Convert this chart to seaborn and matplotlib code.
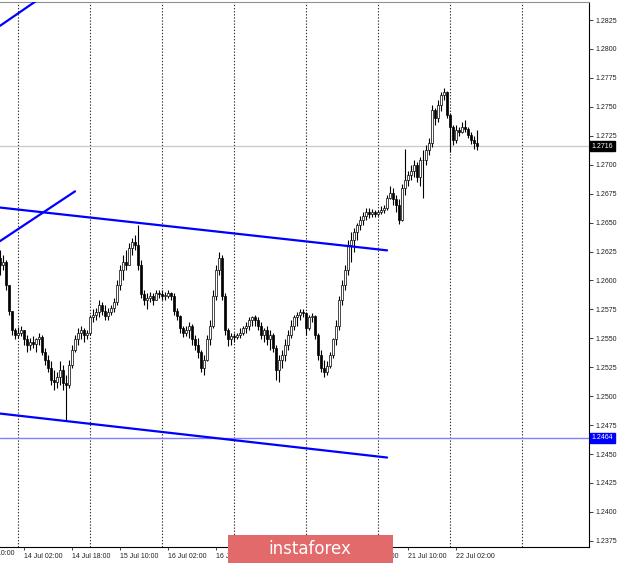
import matplotlib
matplotlib.use("Agg")
import matplotlib.pyplot as plt
import matplotlib.transforms as mtransforms
from matplotlib.patches import FancyBboxPatch
import numpy as np
import pandas as pd
import seaborn as sns

# hourly candles, GBP/USD H1, 13 Jul 18:00 .. 22 Jul 09:00
highs = [1.2626, 1.2622, 1.2618, 1.2596, 1.2574, 1.2559, 1.2560, 1.2561, 1.2557, 1.2553,
         1.2550, 1.2552, 1.2550, 1.2555, 1.2553, 1.2542, 1.2536, 1.2530, 1.2523, 1.2521,
         1.2530, 1.2527, 1.2518, 1.2531, 1.2544, 1.2553, 1.2559, 1.2561, 1.2559, 1.2557,
         1.2570, 1.2575, 1.2576, 1.2583, 1.2581, 1.2579, 1.2576, 1.2579, 1.2585, 1.2600,
         1.2613, 1.2622, 1.2626, 1.2632, 1.2637, 1.2639, 1.2648, 1.2618, 1.2592, 1.2589,
         1.2590, 1.2589, 1.2592, 1.2592, 1.2592, 1.2590, 1.2592, 1.2590, 1.2589, 1.2576,
         1.2570, 1.2561, 1.2561, 1.2564, 1.2562, 1.2553, 1.2550, 1.2540, 1.2536, 1.2553,
         1.2566, 1.2592, 1.2613, 1.2625, 1.2622, 1.2589, 1.2559, 1.2555, 1.2555, 1.2555,
         1.2559, 1.2561, 1.2564, 1.2568, 1.2569, 1.2570, 1.2568, 1.2564, 1.2559, 1.2561,
         1.2557, 1.2555, 1.2544, 1.2536, 1.2540, 1.2549, 1.2557, 1.2566, 1.2570, 1.2573,
         1.2575, 1.2575, 1.2573, 1.2570, 1.2572, 1.2570, 1.2555, 1.2540, 1.2531, 1.2530,
         1.2538, 1.2550, 1.2566, 1.2587, 1.2600, 1.2613, 1.2635, 1.2642, 1.2645, 1.2650,
         1.2656, 1.2659, 1.2663, 1.2663, 1.2662, 1.2661, 1.2661, 1.2664, 1.2665, 1.2674,
         1.2682, 1.2680, 1.2674, 1.2670, 1.2683, 1.2714, 1.2695, 1.2700, 1.2704, 1.2702,
         1.2707, 1.2713, 1.2717, 1.2723, 1.2752, 1.2749, 1.2756, 1.2763, 1.2766, 1.2764,
         1.2745, 1.2734, 1.2734, 1.2733, 1.2737, 1.2739, 1.2733, 1.2728, 1.2725, 1.2730]
lows = [1.2605, 1.2609, 1.2592, 1.2570, 1.2553, 1.2549, 1.2550, 1.2552, 1.2544, 1.2538,
        1.2540, 1.2542, 1.2538, 1.2544, 1.2536, 1.2527, 1.2521, 1.2510, 1.2505, 1.2507,
        1.2510, 1.2505, 1.2479, 1.2507, 1.2524, 1.2538, 1.2544, 1.2549, 1.2547, 1.2549,
        1.2553, 1.2564, 1.2566, 1.2568, 1.2570, 1.2566, 1.2566, 1.2570, 1.2573, 1.2579,
        1.2592, 1.2600, 1.2609, 1.2613, 1.2622, 1.2626, 1.2609, 1.2585, 1.2579, 1.2575,
        1.2581, 1.2579, 1.2583, 1.2585, 1.2583, 1.2583, 1.2585, 1.2583, 1.2570, 1.2566,
        1.2555, 1.2551, 1.2552, 1.2550, 1.2544, 1.2540, 1.2533, 1.2521, 1.2518, 1.2530,
        1.2544, 1.2559, 1.2583, 1.2605, 1.2583, 1.2553, 1.2543, 1.2544, 1.2547, 1.2549,
        1.2550, 1.2553, 1.2555, 1.2557, 1.2561, 1.2561, 1.2557, 1.2549, 1.2547, 1.2544,
        1.2540, 1.2538, 1.2514, 1.2512, 1.2524, 1.2530, 1.2540, 1.2550, 1.2557, 1.2561,
        1.2566, 1.2568, 1.2553, 1.2557, 1.2564, 1.2549, 1.2531, 1.2521, 1.2517, 1.2518,
        1.2524, 1.2533, 1.2544, 1.2557, 1.2579, 1.2592, 1.2605, 1.2616, 1.2625, 1.2635,
        1.2644, 1.2648, 1.2652, 1.2654, 1.2655, 1.2655, 1.2656, 1.2657, 1.2658, 1.2661,
        1.2670, 1.2665, 1.2659, 1.2649, 1.2651, 1.2674, 1.2682, 1.2687, 1.2689, 1.2685,
        1.2682, 1.2671, 1.2700, 1.2708, 1.2715, 1.2734, 1.2737, 1.2746, 1.2756, 1.2740,
        1.2711, 1.2717, 1.2719, 1.2725, 1.2727, 1.2728, 1.2723, 1.2718, 1.2714, 1.2713]
closes = [1.2613, 1.2616, 1.2596, 1.2574, 1.2557, 1.2553, 1.2555, 1.2557, 1.2549, 1.2544,
          1.2547, 1.2545, 1.2549, 1.2551, 1.2538, 1.2531, 1.2524, 1.2514, 1.2512, 1.2517,
          1.2523, 1.2511, 1.2510, 1.2527, 1.2540, 1.2549, 1.2555, 1.2557, 1.2553, 1.2555,
          1.2568, 1.2570, 1.2573, 1.2579, 1.2574, 1.2569, 1.2573, 1.2576, 1.2581, 1.2596,
          1.2609, 1.2616, 1.2613, 1.2628, 1.2633, 1.2631, 1.2613, 1.2588, 1.2583, 1.2585,
          1.2587, 1.2583, 1.2589, 1.2588, 1.2587, 1.2587, 1.2589, 1.2587, 1.2574, 1.2569,
          1.2559, 1.2555, 1.2557, 1.2561, 1.2549, 1.2544, 1.2538, 1.2524, 1.2531, 1.2549,
          1.2561, 1.2587, 1.2609, 1.2619, 1.2587, 1.2557, 1.2549, 1.2552, 1.2551, 1.2553,
          1.2555, 1.2559, 1.2561, 1.2566, 1.2568, 1.2566, 1.2561, 1.2553, 1.2557, 1.2549,
          1.2553, 1.2542, 1.2523, 1.2531, 1.2536, 1.2544, 1.2553, 1.2561, 1.2568, 1.2570,
          1.2573, 1.2572, 1.2559, 1.2568, 1.2569, 1.2553, 1.2536, 1.2524, 1.2521, 1.2526,
          1.2536, 1.2549, 1.2561, 1.2583, 1.2596, 1.2609, 1.2631, 1.2635, 1.2642, 1.2648,
          1.2652, 1.2656, 1.2659, 1.2657, 1.2659, 1.2657, 1.2659, 1.2661, 1.2663, 1.2671,
          1.2676, 1.2670, 1.2665, 1.2652, 1.2680, 1.2687, 1.2691, 1.2695, 1.2700, 1.2689,
          1.2704, 1.2704, 1.2713, 1.2719, 1.2747, 1.2740, 1.2752, 1.2760, 1.2763, 1.2743,
          1.2733, 1.2721, 1.2730, 1.2728, 1.2733, 1.2731, 1.2726, 1.2721, 1.2719, 1.2716]
first_open = 1.2619

# trend lines (bar index, price)
upper_x = [0, 129]
upper_y = [1.2663, 1.2626]
lower_x = [0, 129]
lower_y = [1.2485, 1.2447]
rise1_x = [0, 14]
rise1_y = [1.2820, 1.2845]
rise2_x = [0, 25]
rise2_y = [1.2634, 1.2677]
support_level = 1.2464
last_price = 1.2716

y_ticks = [1.2375, 1.2400, 1.2425, 1.2450, 1.2475, 1.2500, 1.2525, 1.2550, 1.2575,
           1.2600, 1.2625, 1.2650, 1.2675, 1.2700, 1.2725, 1.2750, 1.2775, 1.2800, 1.2825]
day_starts = [6, 30, 54, 78, 102, 126, 150, 174]
time_pos = [-8, 8, 24, 40, 56, 72, 88, 104, 120, 136, 152]
time_labels = ['13 Jul 10:00', '14 Jul 02:00', '14 Jul 18:00', '15 Jul 10:00', '16 Jul 02:00',
               '16 Jul 18:00', '17 Jul 10:00', '20 Jul 02:00', '20 Jul 18:00', '21 Jul 10:00',
               '22 Jul 02:00']

df = pd.DataFrame({'high': highs, 'low': lows, 'close': closes})
df['open'] = [first_open] + closes[:-1]
df['bar'] = np.arange(len(df))

sns.set_style('white')
plt.rcParams['font.family'] = ['Liberation Sans', 'DejaVu Sans']

fig = plt.figure(figsize=(6.2, 5.63), dpi=100)
ax = fig.add_axes([0, 1 - 547 / 563, 589 / 620, 545 / 563])

# grid at day starts
for d in day_starts:
    ax.axvline(d, color='#303030', lw=0.8, ls=(0, (1.2, 1.6)), zorder=0)

# candles
up = df['close'] >= df['open']
wick_hi = np.maximum(df['high'], np.maximum(df['open'], df['close']))
wick_lo = np.minimum(df['low'], np.minimum(df['open'], df['close']))
ax.vlines(df['bar'], wick_lo, wick_hi, color='black', lw=0.8, zorder=2)
body_lo = np.minimum(df['open'], df['close'])
body_h = np.maximum(np.abs(df['close'] - df['open']), 0.00004)
ax.bar(df['bar'][up], body_h[up], bottom=body_lo[up], width=0.8,
       color='white', edgecolor='black', linewidth=0.5, zorder=3)
ax.bar(df['bar'][~up], body_h[~up], bottom=body_lo[~up], width=0.8,
       color='black', edgecolor='black', linewidth=0.5, zorder=3)

# horizontal levels
ax.axhline(last_price, color='#c8c8c8', lw=0.9, zorder=1)
ax.axhline(support_level, color='#7f7fff', lw=1.0, zorder=1)

# trend lines
for lx, ly in [(upper_x, upper_y), (lower_x, lower_y), (rise1_x, rise1_y), (rise2_x, rise2_y)]:
    sns.lineplot(x=lx, y=ly, ax=ax, color='#0000ff', lw=1.6, zorder=4)

ax.set_xlim(0, 196.3)
ax.set_ylim(1.23697, 1.28406)

# axes look
ax.yaxis.tick_right()
ax.set_yticks(y_ticks)
ax.set_yticklabels([f'{v:.4f}' for v in y_ticks])
ax.tick_params(axis='y', right=True, length=3, width=0.6, pad=2, labelsize=5, colors='#202020')
ax.set_xticks([p for p in time_pos if p >= 0])
ax.set_xticklabels([l for p, l in zip(time_pos, time_labels) if p >= 0])
ax.tick_params(axis='x', bottom=True, length=2.5, width=0.6, pad=1.5, labelsize=5, colors='#202020')
plt.setp(ax.get_xticklabels(), ha='left')
trans = mtransforms.blended_transform_factory(ax.transData, ax.transAxes)
ax.text(time_pos[0], -0.006, time_labels[0], transform=trans, fontsize=5, color='#202020',
        ha='left', va='top', clip_on=False)
ax.set_xlabel('')
ax.set_ylabel('')
ax.spines['left'].set_visible(False)
ax.spines['top'].set_color('#909090')
ax.spines['right'].set_color('black')
ax.spines['bottom'].set_color('black')
for s in ['top', 'right', 'bottom']:
    ax.spines[s].set_linewidth(0.8)

# price tags on the axis
ytrans = mtransforms.blended_transform_factory(ax.transAxes, ax.transData)
ax.text(1.004, last_price, f'{last_price:.4f}', transform=ytrans,
        fontsize=5, color='white', va='center', ha='left',
        bbox=dict(boxstyle='square,pad=0.25', fc='black', ec='black'), zorder=6, clip_on=False)
ax.text(1.004, support_level, f'{support_level:.4f}', transform=ytrans,
        fontsize=5, color='white', va='center', ha='left',
        bbox=dict(boxstyle='square,pad=0.25', fc='#0000ff', ec='#0000ff'), zorder=6, clip_on=False)

# watermark banner
banner = FancyBboxPatch((228 / 620, 0), 165 / 620, 28 / 563, boxstyle='square,pad=0',
                        transform=fig.transFigure, fc='#e26a6a', ec='none', zorder=10)
fig.patches.append(banner)
fig.text(310 / 620, 14 / 563, 'instaforex', color='white', fontsize=12, ha='center', va='center',
         family='DejaVu Sans', zorder=11)

fig.savefig('out.png', dpi=100)
